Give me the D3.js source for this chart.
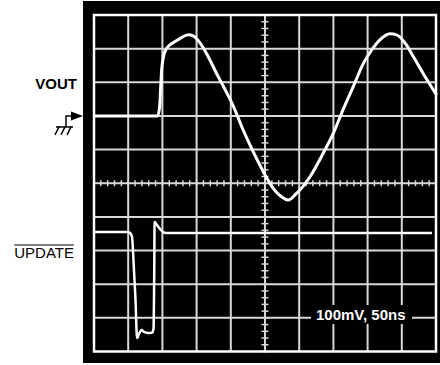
<!DOCTYPE html>
<html>
<head>
<meta charset="utf-8">
<script src="https://cdn.jsdelivr.net/npm/d3@7"></script>
<style>
  body { margin: 0; background: #fff; }
  text { font-family: "Liberation Sans", Arial, Helvetica, sans-serif; }
</style>
</head>
<body>
<div id="chart"></div>
<script>
// time in ns (50 ns / div), VOUT in mV relative to ground marker (100 mV / div)
const voutTime = [0, 92.8, 95.8, 97.5, 99, 102, 106, 111, 121, 130.5, 138, 145, 155, 167, 179, 192, 204, 216, 228, 240, 250, 262, 274, 284, 296, 301, 316, 335, 350, 364, 379, 394, 406, 418, 433, 442.5, 455, 467, 481, 501];
const voutMv = [0, 0, 24, 87, 140, 180, 200, 211, 224, 236, 241, 238, 217, 176, 127, 77, 28, -32, -86, -136, -175, -215, -240, -250, -230, -220, -180, -111, -51, 18, 87, 157, 196, 226, 244, 241, 216, 176, 127, 62];

// UPDATE trace, in screen divisions from the centre line
const updTime = [0, 49.7, 53.4, 55.6, 57.7, 60.7, 62.9, 65.8, 69.4, 73.1, 79, 84.8, 87, 87.7, 88.2, 88.5, 92.1, 96.5, 100.9, 105.3, 494];
const updDiv = [-1.45, -1.45, -1.49, -1.6, -2.28, -3.47, -4.6, -4.48, -4.36, -4.42, -4.45, -4.44, -4.33, -3.47, -2.28, -1.15, -1.24, -1.36, -1.45, -1.48, -1.48];

const timeTicks = d3.range(0, 501, 50);
const divTicks = d3.range(-5, 6, 1);
const minorTime = d3.range(0, 501, 10);
const minorDiv = d3.range(-5, 5.01, 0.2);

const width = 440;
const height = 365;
const screen = { left: 94, right: 436, top: 15, bottom: 351.5 };

const svg = d3
  .select('#chart')
  .append('svg')
  .attr('width', width)
  .attr('height', height);

const x = d3.scaleLinear().domain([0, 500]).range([screen.left, screen.right]);
const yDiv = d3.scaleLinear().domain([-5, 5]).range([screen.bottom, screen.top]);
const yMv = d3.scaleLinear().domain([-700, 300]).range([screen.bottom, screen.top]);

// scope face
svg.append('rect')
  .attr('x', 83).attr('y', 1)
  .attr('width', 360).attr('height', 362)
  .attr('fill', '#000');

// Grid
const grid = svg.append('g').attr('stroke', '#d8d8d8').attr('stroke-width', 2);
grid.selectAll('.vline')
  .data(timeTicks.slice(1, -1))
  .enter().append('line')
  .attr('x1', d => x(d)).attr('x2', d => x(d))
  .attr('y1', screen.top).attr('y2', screen.bottom);
grid.selectAll('.hline')
  .data(divTicks.slice(1, -1))
  .enter().append('line')
  .attr('y1', d => yDiv(d)).attr('y2', d => yDiv(d))
  .attr('x1', screen.left).attr('x2', screen.right);

// minor ticks on centre lines
grid.selectAll('.xtick')
  .data(minorTime)
  .enter().append('line')
  .attr('stroke-width', 1.5)
  .attr('x1', d => x(d)).attr('x2', d => x(d))
  .attr('y1', yDiv(0) - 3).attr('y2', yDiv(0) + 3);
grid.selectAll('.ytick')
  .data(minorDiv)
  .enter().append('line')
  .attr('stroke-width', 1.5)
  .attr('y1', d => yDiv(d)).attr('y2', d => yDiv(d))
  .attr('x1', x(250) - 3.5).attr('x2', x(250) + 3.5);

// border
svg.append('rect')
  .attr('x', screen.left).attr('y', screen.top)
  .attr('width', screen.right - screen.left)
  .attr('height', screen.bottom - screen.top)
  .attr('fill', 'none')
  .attr('stroke', '#fff')
  .attr('stroke-width', 2.5);

// scale label
svg.append('rect')
  .attr('x', 311).attr('y', 305)
  .attr('width', 101).attr('height', 19)
  .attr('fill', '#000');
svg.append('text')
  .attr('x', 316).attr('y', 319.5)
  .attr('fill', '#fff')
  .attr('font-size', '15px')
  .attr('font-weight', 'bold')
  .text('100mV, 50ns');

// Traces
const vout = voutTime.map((t, i) => ({ t: t, v: voutMv[i] }));
const upd = updTime.map((t, i) => ({ t: t, v: updDiv[i] }));

const voutLine = d3.line()
  .x(d => x(d.t))
  .y(d => yMv(d.v))
  .curve(d3.curveMonotoneX);
const updLine = d3.line()
  .x(d => x(d.t))
  .y(d => yDiv(d.v))
  .curve(d3.curveMonotoneX);

svg.append('path')
  .attr('d', voutLine(vout))
  .attr('fill', 'none')
  .attr('stroke', '#fff')
  .attr('stroke-width', 3)
  .attr('stroke-linejoin', 'round');
svg.append('path')
  .attr('d', updLine(upd))
  .attr('fill', 'none')
  .attr('stroke', '#fff')
  .attr('stroke-width', 2.5)
  .attr('stroke-linejoin', 'round');

// Labels
svg.append('text')
  .attr('x', 77).attr('y', 89)
  .attr('text-anchor', 'end')
  .attr('font-size', '15px')
  .attr('font-weight', 'bold')
  .text('VOUT');

const upLabel = svg.append('text')
  .attr('x', 74).attr('y', 258)
  .attr('text-anchor', 'end')
  .attr('font-size', '15px')
  .text('UPDATE');
const bb = upLabel.node().getBBox();
svg.append('line')
  .attr('x1', bb.x).attr('x2', bb.x + bb.width)
  .attr('y1', 245).attr('y2', 245)
  .attr('stroke', '#000')
  .attr('stroke-width', 1.2);

// ground marker at 0 mV
const gy = yMv(0);
const gnd = svg.append('g').attr('stroke', '#000').attr('stroke-width', 1.5).attr('fill', 'none');
gnd.append('path').attr('d', `M66,${gy + 11} V${gy} H72`);
gnd.append('path').attr('d', `M56,${gy + 11} H73`);
gnd.append('path').attr('d', `M59,${gy + 11} L55,${gy + 19} M65,${gy + 11} L61,${gy + 19} M71,${gy + 11} L67,${gy + 19}`);
svg.append('path')
  .attr('d', `M71,${gy - 4.5} L83,${gy} L71,${gy + 4.5} Z`)
  .attr('fill', '#000');
</script>
</body>
</html>
